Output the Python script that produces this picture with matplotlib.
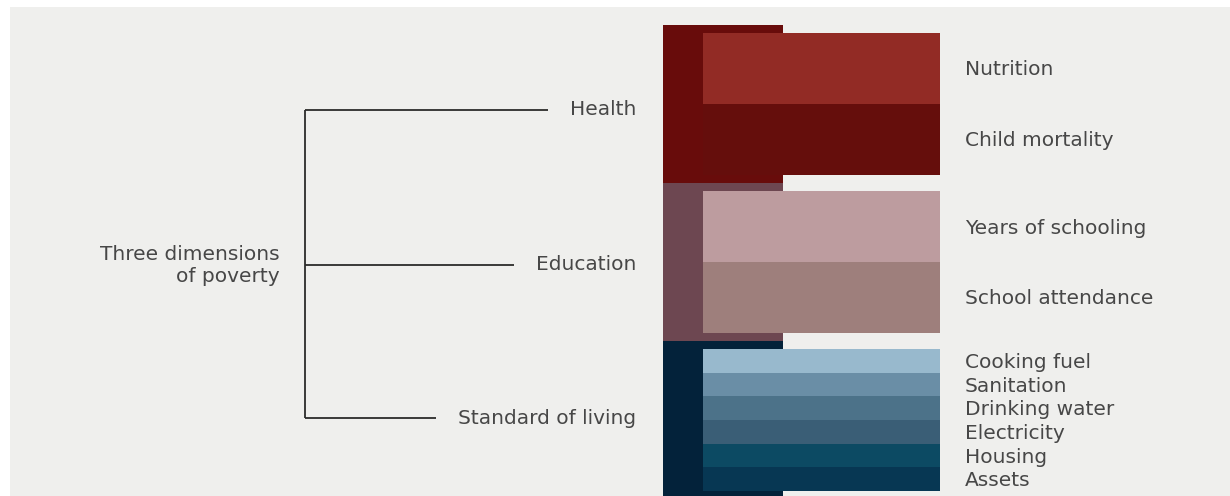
import matplotlib
matplotlib.use("Agg")
import matplotlib.pyplot as plt
from matplotlib.patches import Rectangle

# ---------------- data ----------------
root_label = "Three dimensions\nof poverty"
dimensions = ["Health", "Education", "Standard of living"]
dimension_weights = [1 / 3, 1 / 3, 1 / 3]
indicators = [
    ["Nutrition", "Child mortality"],
    ["Years of schooling", "School attendance"],
    ["Cooking fuel", "Sanitation", "Drinking water", "Electricity", "Housing", "Assets"],
]
indicator_weights = [
    [1 / 6, 1 / 6],
    [1 / 6, 1 / 6],
    [1 / 18, 1 / 18, 1 / 18, 1 / 18, 1 / 18, 1 / 18],
]
dimension_colors = ["#680c0b", "#6d4751", "#03223a"]
indicator_colors = [
    ["#922b25", "#650e0c"],
    ["#bd9c9f", "#9e7f7c"],
    ["#98b9cd", "#6a8ea6", "#4c7289", "#3a5e76", "#0c4a63", "#073753"],
]

# ---------------- figure ----------------
W, H, DPI = 1230, 496, 100
fig = plt.figure(figsize=(W / DPI, H / DPI), dpi=DPI, facecolor="white")
ax = fig.add_axes([0, 0, 1, 1])
ax.set_axis_off()
# x: pixel-like layout units; y: share of the index (weights)
top_px, px_per_unit = 25, 474
ax.set_xlim(0, W)
ax.set_ylim((H - top_px) / px_per_unit, -top_px / px_per_unit)

# gray panel background with thin white margins at left and top
ax.add_patch(Rectangle((0, 0), 1, 1, facecolor="white", edgecolor="none",
                       transform=ax.transAxes, zorder=-1))
ax.add_patch(Rectangle((10 / W, 0), 1, 1 - 7 / H, facecolor="#efefed",
                       edgecolor="none", transform=ax.transAxes, zorder=0))

text_color = "#474747"
fs = 14.5
pad = 8 / px_per_unit

dim_left, dim_width = 663, 120
ind_left, ind_width = 703, 237
label_x = 965

cum = 0.0
centers = []
for d, dw in enumerate(dimension_weights):
    center = cum + dw / 2
    centers.append(center)
    ax.barh(center, dim_width, height=dw, left=dim_left, color=dimension_colors[d],
            edgecolor="none", zorder=2)
    scale = (dw - 2 * pad) / dw
    y = cum + pad
    for i, (name, iw) in enumerate(zip(indicators[d], indicator_weights[d])):
        h = iw * scale
        ax.barh(y + h / 2, ind_width, height=h, left=ind_left,
                color=indicator_colors[d][i], edgecolor="none", zorder=3)
        ax.text(label_x, y + h / 2 + 1.5 / px_per_unit, name, ha="left", va="center",
                fontsize=fs, color=text_color, zorder=4)
        y += h
    cum += dw

# tree
tree_x = 305
dim_label_right = 636
dim_offsets = [6, 3, -2]
label_objs = []
ys = []
for d, name in enumerate(dimensions):
    yy = centers[d] + dim_offsets[d] / px_per_unit
    ys.append(yy)
    t = ax.text(dim_label_right, yy, name, ha="right", va="center", fontsize=fs,
                color=text_color, zorder=4)
    label_objs.append(t)

fig.canvas.draw()
renderer = fig.canvas.get_renderer()
inv = ax.transData.inverted()
for t, yy in zip(label_objs, ys):
    bb = t.get_window_extent(renderer)
    x0 = inv.transform((bb.x0, 0))[0]
    ax.plot([tree_x, x0 - 22], [yy, yy], color="#2b2b2b", lw=1.3,
            solid_capstyle="butt", zorder=4)
ax.plot([tree_x, tree_x], [ys[0], ys[-1]], color="#2b2b2b", lw=1.3,
        solid_capstyle="butt", zorder=4)

ax.text(280, (ys[0] + ys[-1]) / 2 + 2 / px_per_unit, root_label, ha="right",
        va="center", fontsize=fs, color=text_color, linespacing=1.2, zorder=4)

fig.savefig("out.png", dpi=DPI, facecolor="white")
